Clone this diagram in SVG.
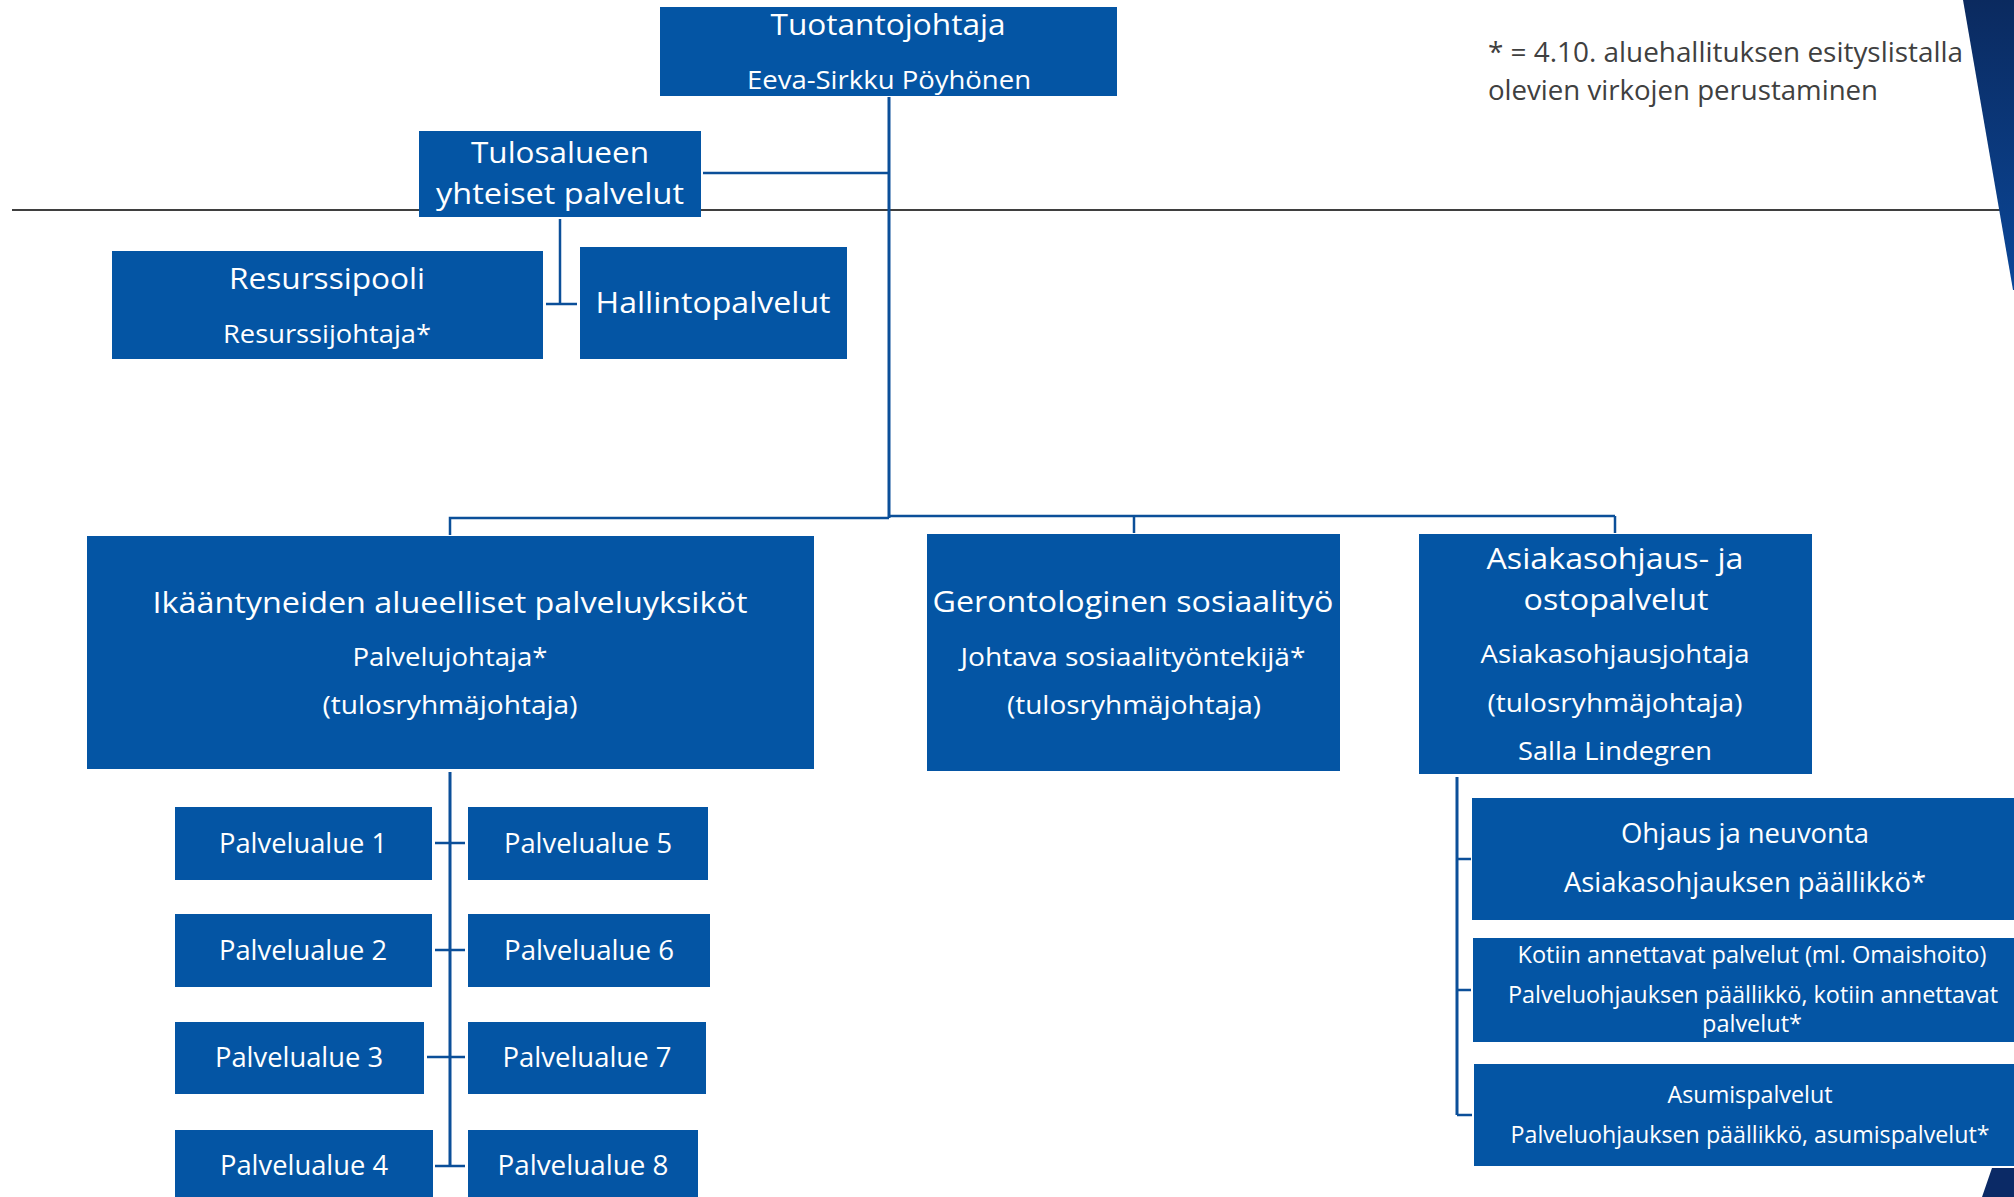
<svg xmlns="http://www.w3.org/2000/svg" width="2014" height="1197" viewBox="0 0 2014 1197">
<defs>
<linearGradient id="gTop" x1="0" y1="0" x2="0" y2="1">
<stop offset="0" stop-color="#0b2a5f"/>
<stop offset="1" stop-color="#0a4799"/>
</linearGradient>
<style>
.box{fill:#0455a4;}
.t{font-family:"Open Sans","Liberation Sans",sans-serif;fill:#ffffff;text-anchor:middle;}
.note{font-family:"Open Sans","Liberation Sans",sans-serif;fill:#404040;font-size:28px;}
.ln{stroke:#0b4f99;fill:none;stroke-width:2.5;}
.trunk{stroke:#0b4f99;fill:none;stroke-width:3;}
</style>
</defs>
<rect x="0" y="0" width="2014" height="1197" fill="#ffffff"/>
<line x1="12" y1="210" x2="2005" y2="210" stroke="#3f3f3f" stroke-width="2"/>
<polygon points="1963,0 2014,0 2014,290 2013,290" fill="url(#gTop)"/>
<polygon points="1992,1168 2014,1168 2014,1197 1982,1197" fill="#0b2a66"/>

<g id="connectors">
<line class="trunk" x1="889" y1="97" x2="889" y2="518"/>
<line class="ln" x1="703" y1="173" x2="889" y2="173"/>
<polyline class="ln" points="450,535 450,518 889,518"/>
<line class="ln" x1="889" y1="516" x2="1615" y2="516"/>
<line class="ln" x1="1134" y1="516" x2="1134" y2="533"/>
<line class="ln" x1="1615" y1="516" x2="1615" y2="533"/>
<line class="ln" x1="560" y1="219" x2="560" y2="304"/>
<line class="ln" x1="546" y1="304" x2="577" y2="304"/>
<line class="trunk" x1="450" y1="772" x2="450" y2="1166"/>
<line class="ln" x1="435" y1="843" x2="465" y2="843"/>
<line class="ln" x1="435" y1="950" x2="465" y2="950"/>
<line class="ln" x1="427" y1="1057" x2="465" y2="1057"/>
<line class="ln" x1="435" y1="1166" x2="465" y2="1166"/>
<line class="trunk" x1="1457" y1="777" x2="1457" y2="1115"/>
<line class="ln" x1="1457" y1="859" x2="1471" y2="859"/>
<line class="ln" x1="1457" y1="990" x2="1471" y2="990"/>
<line class="ln" x1="1457" y1="1115" x2="1472" y2="1115"/>
</g>

<g id="tuotantojohtaja">
<rect class="box" x="660" y="7" width="457" height="89"/>
<text class="t" x="888" y="35" font-size="29" textLength="235" lengthAdjust="spacingAndGlyphs">Tuotantojohtaja</text>
<text class="t" x="889" y="89" font-size="25" textLength="284" lengthAdjust="spacingAndGlyphs">Eeva-Sirkku Pöyhönen</text>
</g>

<g id="tulosalueen">
<rect class="box" x="419" y="131" width="282" height="86"/>
<text class="t" x="560" y="163" font-size="29" textLength="178" lengthAdjust="spacingAndGlyphs">Tulosalueen</text>
<text class="t" x="560" y="204" font-size="29" textLength="248" lengthAdjust="spacingAndGlyphs">yhteiset palvelut</text>
</g>

<g id="resurssipooli">
<rect class="box" x="112" y="251" width="431" height="108"/>
<text class="t" x="327" y="289" font-size="29" textLength="196" lengthAdjust="spacingAndGlyphs">Resurssipooli</text>
<text class="t" x="327" y="343" font-size="25" textLength="208" lengthAdjust="spacingAndGlyphs">Resurssijohtaja*</text>
</g>

<g id="hallintopalvelut">
<rect class="box" x="580" y="247" width="267" height="112"/>
<text class="t" x="713" y="313" font-size="29" textLength="235" lengthAdjust="spacingAndGlyphs">Hallintopalvelut</text>
</g>

<g id="ikaantyneiden">
<rect class="box" x="87" y="536" width="727" height="233"/>
<text class="t" x="450" y="613" font-size="30" textLength="595" lengthAdjust="spacingAndGlyphs">Ikääntyneiden alueelliset palveluyksiköt</text>
<text class="t" x="450" y="666" font-size="25" textLength="195" lengthAdjust="spacingAndGlyphs">Palvelujohtaja*</text>
<text class="t" x="450" y="714" font-size="25" textLength="255" lengthAdjust="spacingAndGlyphs">(tulosryhmäjohtaja)</text>
</g>

<g id="gerontologinen">
<rect class="box" x="927" y="534" width="413" height="237"/>
<text class="t" x="1133" y="612" font-size="30" textLength="401" lengthAdjust="spacingAndGlyphs">Gerontologinen sosiaalityö</text>
<text class="t" x="1133" y="666" font-size="25" textLength="345" lengthAdjust="spacingAndGlyphs">Johtava sosiaalityöntekijä*</text>
<text class="t" x="1134" y="714" font-size="25" textLength="254" lengthAdjust="spacingAndGlyphs">(tulosryhmäjohtaja)</text>
</g>

<g id="asiakasohjaus">
<rect class="box" x="1419" y="534" width="393" height="240"/>
<text class="t" x="1615" y="569" font-size="30" textLength="257" lengthAdjust="spacingAndGlyphs">Asiakasohjaus- ja</text>
<text class="t" x="1616" y="610" font-size="30" textLength="185" lengthAdjust="spacingAndGlyphs">ostopalvelut</text>
<text class="t" x="1615" y="663" font-size="25" textLength="269" lengthAdjust="spacingAndGlyphs">Asiakasohjausjohtaja</text>
<text class="t" x="1615" y="712" font-size="25" textLength="255" lengthAdjust="spacingAndGlyphs">(tulosryhmäjohtaja)</text>
<text class="t" x="1615" y="760" font-size="25" textLength="194" lengthAdjust="spacingAndGlyphs">Salla Lindegren</text>
</g>

<g id="palvelualue1">
<rect class="box" x="175" y="807" width="257" height="73"/>
<text class="t" x="303" y="853" font-size="27" textLength="168" lengthAdjust="spacingAndGlyphs">Palvelualue 1</text>
</g>
<g id="palvelualue2">
<rect class="box" x="175" y="914" width="257" height="73"/>
<text class="t" x="303" y="960" font-size="27" textLength="168" lengthAdjust="spacingAndGlyphs">Palvelualue 2</text>
</g>
<g id="palvelualue3">
<rect class="box" x="175" y="1022" width="249" height="72"/>
<text class="t" x="299" y="1067" font-size="27" textLength="168" lengthAdjust="spacingAndGlyphs">Palvelualue 3</text>
</g>
<g id="palvelualue4">
<rect class="box" x="175" y="1130" width="258" height="70"/>
<text class="t" x="304" y="1175" font-size="27" textLength="168" lengthAdjust="spacingAndGlyphs">Palvelualue 4</text>
</g>
<g id="palvelualue5">
<rect class="box" x="468" y="807" width="240" height="73"/>
<text class="t" x="588" y="853" font-size="27" textLength="168" lengthAdjust="spacingAndGlyphs">Palvelualue 5</text>
</g>
<g id="palvelualue6">
<rect class="box" x="468" y="914" width="242" height="73"/>
<text class="t" x="589" y="960" font-size="27" textLength="170" lengthAdjust="spacingAndGlyphs">Palvelualue 6</text>
</g>
<g id="palvelualue7">
<rect class="box" x="468" y="1022" width="238" height="72"/>
<text class="t" x="587" y="1067" font-size="27" textLength="169" lengthAdjust="spacingAndGlyphs">Palvelualue 7</text>
</g>
<g id="palvelualue8">
<rect class="box" x="468" y="1130" width="230" height="70"/>
<text class="t" x="583" y="1175" font-size="27" textLength="171" lengthAdjust="spacingAndGlyphs">Palvelualue 8</text>
</g>

<g id="ohjaus">
<rect class="box" x="1472" y="798" width="550" height="122"/>
<text class="t" x="1745" y="843" font-size="27" textLength="248" lengthAdjust="spacingAndGlyphs">Ohjaus ja neuvonta</text>
<text class="t" x="1745" y="892" font-size="27" textLength="362" lengthAdjust="spacingAndGlyphs">Asiakasohjauksen päällikkö*</text>
</g>

<g id="kotiin">
<rect class="box" x="1473" y="938" width="549" height="104"/>
<text class="t" x="1752" y="963" font-size="23" textLength="469" lengthAdjust="spacingAndGlyphs">Kotiin annettavat palvelut (ml. Omaishoito)</text>
<text class="t" x="1753" y="1003" font-size="23" textLength="490" lengthAdjust="spacingAndGlyphs">Palveluohjauksen päällikkö, kotiin annettavat</text>
<text class="t" x="1752" y="1032" font-size="23" textLength="100" lengthAdjust="spacingAndGlyphs">palvelut*</text>
</g>

<g id="asumispalvelut">
<rect class="box" x="1474" y="1064" width="548" height="102"/>
<text class="t" x="1750" y="1103" font-size="23" textLength="165" lengthAdjust="spacingAndGlyphs">Asumispalvelut</text>
<text class="t" x="1750" y="1143" font-size="23" textLength="479" lengthAdjust="spacingAndGlyphs">Palveluohjauksen päällikkö, asumispalvelut*</text>
</g>

<g id="note">
<text class="note" x="1488" y="62" textLength="475" lengthAdjust="spacingAndGlyphs">* = 4.10. aluehallituksen esityslistalla</text>
<text class="note" x="1488" y="100" textLength="390" lengthAdjust="spacingAndGlyphs">olevien virkojen perustaminen</text>
</g>
</svg>
